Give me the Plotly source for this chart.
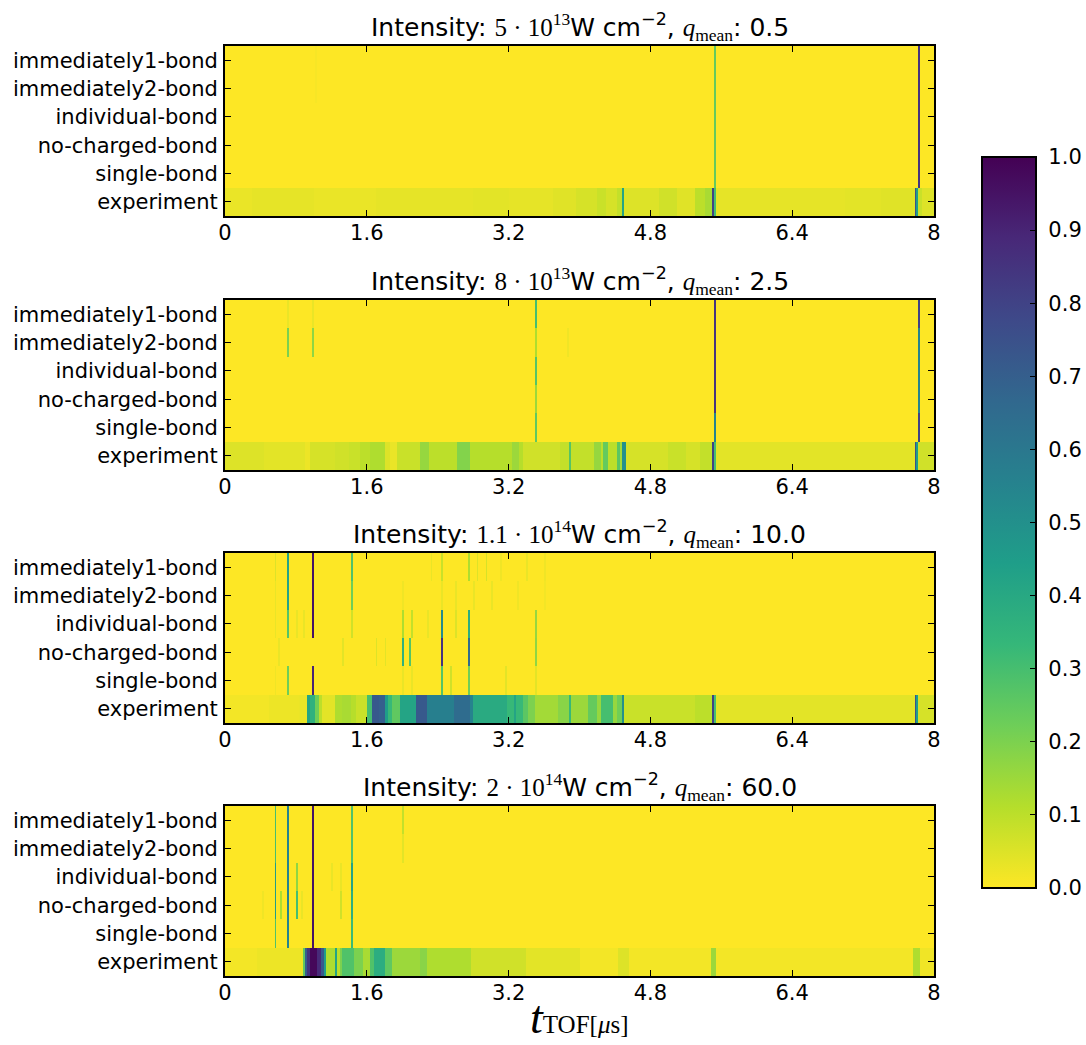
import numpy as np
import plotly.graph_objects as go

ROW_LABELS = ["immediately1-bond", "immediately2-bond", "individual-bond",
              "no-charged-bond", "single-bond", "experiment"]
X_TICKS = [0, 1.6, 3.2, 4.8, 6.4, 8]
X_TICK_LABELS = ["0", "1.6", "3.2", "4.8", "6.4", "8"]
CBAR_TICKS = [0.0, 0.1, 0.2, 0.3, 0.4, 0.5, 0.6, 0.7, 0.8, 0.9, 1.0]
BIN_WIDTH = 0.02
N_BINS = 400

# Sparse peaks: (t in microseconds, intensity)
p1_imm1 = [(1.02, 0.01), (5.52, 0.24), (7.83, 0.85)]
p1_imm2 = [(1.02, 0.01), (5.52, 0.24), (7.83, 0.85)]
p1_ind = [(5.52, 0.24), (7.83, 0.85)]
p1_nc = [(5.52, 0.24), (7.83, 0.85)]
p1_single = [(5.52, 0.24), (7.83, 0.85)]
p1_exp = [(0, .03), (.3, .035), (1.0, .03), (1.7, .035), (2.8, .04), (3.2, .035), (3.7, .045), (3.95, .06),
          (4.2, .08), (4.3, .06), (4.42, .09), (4.48, .42), (4.5, .05), (4.9, .07), (5.1, .045), (5.3, .1), (5.42, .13),
          (5.5, .8), (5.52, .3), (5.54, .035), (7.0, .04), (7.4, .045), (7.78, .75), (7.8, .45), (7.82, .08), (7.86, .05), (8, .05)]

p2_imm1 = [(0.71, .03), (0.99, .03), (3.5, .3), (5.52, .85), (7.83, .8)]
p2_imm2 = [(0.71, .2), (0.99, .17), (3.5, .12), (3.87, .02), (5.52, .85), (7.83, .55)]
p2_ind = [(3.5, .27), (5.52, .85), (7.83, .55)]
p2_nc = [(3.5, .15), (5.52, .85), (7.83, .55)]
p2_single = [(3.5, .25), (5.52, .55), (7.83, .8)]
p2_exp = [(0, .05), (.45, .04), (.9, .025), (.95, .06), (1.25, .07), (1.4, .08), (1.52, .1), (1.64, .12), (1.79, .05),
          (1.86, .03), (1.94, .08), (2.2, .16), (2.3, .1), (2.62, .19), (2.77, .11), (3.25, .15), (3.33, .11),
          (3.36, .07), (3.78, .09), (3.88, .27), (3.9, .09), (4.16, .16), (4.23, .1), (4.27, .24),
          (4.33, .1), (4.42, .26), (4.46, .14), (4.48, .5), (4.52, .06), (5.0, .08), (5.2, .06), (5.35, .09),
          (5.5, .8), (5.52, .3), (5.54, .04), (7.78, .75), (7.8, .45), (7.82, .07), (8, .07)]

p3_imm1 = [(.56, .05), (.7, .42), (.99, .95), (1.42, .28), (2.33, .03), (2.45, .08), (2.75, .12), (2.85, .05),
           (2.94, .06), (3.1, .02), (3.4, .03), (3.6, .02)]
p3_imm2 = [(.56, .03), (.7, .42), (.99, .95), (1.42, .22), (2.0, .02), (2.45, .03), (2.6, .03), (2.8, .03),
           (3.0, .03), (3.3, .02), (3.6, .015)]
p3_ind = [(.56, .03), (.7, .27), (.8, .03), (.88, .03), (.99, .95), (1.42, .07), (2.0, .12), (2.1, .09),
          (2.3, .03), (2.45, .52), (2.6, .05), (2.75, .38), (3.5, .16)]
p3_nc = [(.6, .03), (1.32, .04), (1.7, .05), (1.8, .04), (2.0, .36), (2.08, .27), (2.45, .85), (2.75, .65), (3.5, .17)]
p3_single = [(.56, .02), (.7, .22), (.99, .9), (2.0, .03), (2.1, .03), (2.45, .27), (2.55, .07), (2.75, .22),
             (3.17, .04), (3.5, .04)]
p3_exp = [(0, .015), (.5, .025), (.85, .03), (.91, .42), (.97, .36), (1.02, .22), (1.06, .1), (1.1, .04), (1.23, .12),
          (1.32, .13), (1.42, .11), (1.49, .08), (1.6, .3), (1.66, .72), (1.74, .7), (1.79, .45), (1.83, .33),
          (1.87, .25), (1.98, .42), (2.17, .72), (2.28, .57), (2.58, .65), (2.75, .55), (2.81, .39), (3.18, .33),
          (3.26, .42), (3.28, .33), (3.36, .26), (3.42, .2), (3.5, .14), (3.76, .18), (3.88, .33), (3.9, .15),
          (4.1, .24), (4.2, .16), (4.24, .3), (4.38, .16), (4.42, .22), (4.48, .5), (4.5, .08), (5.3, .1),
          (5.5, .8), (5.52, .3), (5.54, .04), (7.78, .75), (7.8, .45), (7.82, .06), (8, .06)]

p4_imm1 = [(.56, .3), (.71, .55), (.99, .95), (1.42, .28), (2.0, .09)]
p4_imm2 = [(.56, .3), (.71, .55), (.99, .95), (1.42, .28), (2.0, .04)]
p4_ind = [(.56, .45), (.71, .55), (.8, .17), (.99, .95), (1.2, .03), (1.3, .03), (1.42, .42)]
p4_nc = [(.42, .02), (.56, .45), (.62, .12), (.71, .55), (.8, .3), (.87, .03), (.99, .95), (1.3, .07), (1.42, .37)]
p4_single = [(.56, .28), (.71, .55), (.99, .95), (1.42, .32)]
p4_exp = [(0, .015), (.35, .025), (.88, .25), (.9, .7), (.93, .85), (.97, .98), (1.05, .88), (1.08, .72), (1.12, .45),
          (1.14, .12), (1.24, .42), (1.26, .1), (1.3, .2), (1.33, .28), (1.46, .2), (1.55, .13), (1.63, .28), (1.69, .38),
          (1.8, .25), (1.87, .15), (2.2, .18), (2.29, .12), (2.78, .07), (3.4, .04), (4.0, .015), (4.45, .05), (4.55, .015),
          (5.48, .15), (5.54, .015), (7.76, .12), (7.84, .02), (8, .02)]

PANELS = [
    ([p1_imm1, p1_imm2, p1_ind, p1_nc, p1_single], p1_exp),
    ([p2_imm1, p2_imm2, p2_ind, p2_nc, p2_single], p2_exp),
    ([p3_imm1, p3_imm2, p3_ind, p3_nc, p3_single], p3_exp),
    ([p4_imm1, p4_imm2, p4_ind, p4_nc, p4_single], p4_exp),
]
MATH = "font-family:'Liberation Serif'"
TITLES = [
    f"Intensity: <span style=\"{MATH}\">5 · 10<sup>13</sup></span>W cm<sup>−2</sup>, "
    f"<span style=\"{MATH}\"><i>q</i><sub>mean</sub></span>: 0.5",
    f"Intensity: <span style=\"{MATH}\">8 · 10<sup>13</sup></span>W cm<sup>−2</sup>, "
    f"<span style=\"{MATH}\"><i>q</i><sub>mean</sub></span>: 2.5",
    f"Intensity: <span style=\"{MATH}\">1.1 · 10<sup>14</sup></span>W cm<sup>−2</sup>, "
    f"<span style=\"{MATH}\"><i>q</i><sub>mean</sub></span>: 10.0",
    f"Intensity: <span style=\"{MATH}\">2 · 10<sup>14</sup></span>W cm<sup>−2</sup>, "
    f"<span style=\"{MATH}\"><i>q</i><sub>mean</sub></span>: 60.0",
]

W, H = 1086, 1045
LEFT, RIGHT = 225, 934
PANEL_TOPS = [46, 300, 553, 806]
PANEL_H = 170
FONT = "DejaVu Sans"
FS = 21


def peak_row(peaks):
    row = np.zeros(N_BINS)
    for t, v in peaks:
        i = min(int(t / BIN_WIDTH), N_BINS - 1)
        row[i] = max(row[i], v)
    return row


def segment_row(segments):
    row = np.zeros(N_BINS)
    for (t0, v), (t1, _) in zip(segments[:-1], segments[1:]):
        row[int(round(t0 / BIN_WIDTH)):int(round(t1 / BIN_WIDTH))] = v
    return row


x_centers = (np.arange(N_BINS) + 0.5) * BIN_WIDTH
fig = go.Figure()
annotations = []
layout_axes = {}
for k, ((rows, exp), title, top) in enumerate(zip(PANELS, TITLES, PANEL_TOPS)):
    sx = "" if k == 0 else str(k + 1)
    z = [peak_row(r) for r in rows] + [segment_row(exp)]
    fig.add_trace(go.Heatmap(z=np.array(z), x=x_centers, y=ROW_LABELS,
                             coloraxis="coloraxis", xaxis=f"x{sx}", yaxis=f"y{sx}",
                             hoverongaps=False))
    layout_axes[f"xaxis{sx}"] = dict(
        domain=[LEFT / W, RIGHT / W], range=[0, 8], anchor=f"y{sx}",
        tickvals=X_TICKS, ticktext=X_TICK_LABELS, ticks="inside", ticklen=6,
        tickwidth=1, tickcolor="black", mirror="ticks", showline=True,
        linewidth=2, linecolor="black", showgrid=False, zeroline=False,
        ticklabelstandoff=-3,
        tickfont=dict(family=FONT, size=FS, color="black"))
    layout_axes[f"yaxis{sx}"] = dict(
        domain=[1 - (top + PANEL_H) / H, 1 - top / H], anchor=f"x{sx}",
        autorange="reversed", type="category", ticks="inside", ticklen=6,
        tickwidth=1, tickcolor="black", mirror="ticks", showline=True,
        linewidth=2, linecolor="black", showgrid=False, zeroline=False,
        ticklabelstandoff=1,
        tickfont=dict(family=FONT, size=FS, color="black"))
    annotations.append(dict(text=title, xref="paper", yref="paper",
                            x=(LEFT + RIGHT) / 2 / W, y=1 - (top + 1) / H,
                            xanchor="center", yanchor="bottom", showarrow=False,
                            font=dict(family=FONT, size=25, color="black")))

annotations.append(dict(
    text="<span style=\"font-size:46px\"><i>t</i></span>"
         "<span style=\"font-size:25px\">TOF[<i>μ</i>s]</span>",
    xref="paper", yref="paper", x=(LEFT + RIGHT) / 2 / W, y=1 - 1017 / H,
    xanchor="center", yanchor="middle", showarrow=False,
    font=dict(family="Liberation Serif", size=30, color="black")))

fig.update_layout(
    width=W, height=H, autosize=False,
    margin=dict(l=0, r=0, t=0, b=0, autoexpand=False),
    paper_bgcolor="white", plot_bgcolor="white",
    showlegend=False, annotations=annotations,
    coloraxis=dict(
        colorscale="Viridis", reversescale=True, cmin=0, cmax=1,
        colorbar=dict(
            x=982 / W, xanchor="left", xpad=0, ypad=0,
            y=1 - 522.5 / H, yanchor="middle",
            lenmode="pixels", len=731, thicknessmode="pixels", thickness=54,
            outlinewidth=2, outlinecolor="black",
            tickvals=CBAR_TICKS, ticktext=[f"\u00a0{v:.1f}" for v in CBAR_TICKS],
            ticks="inside", ticklen=7, tickwidth=1, tickcolor="black",
            tickfont=dict(family=FONT, size=FS, color="black"))),
    **layout_axes)

fig.write_html("out.html", include_plotlyjs=True, config={"displayModeBar": False},
               post_script="document.body.style.margin='0';document.documentElement.style.overflow='hidden';")
